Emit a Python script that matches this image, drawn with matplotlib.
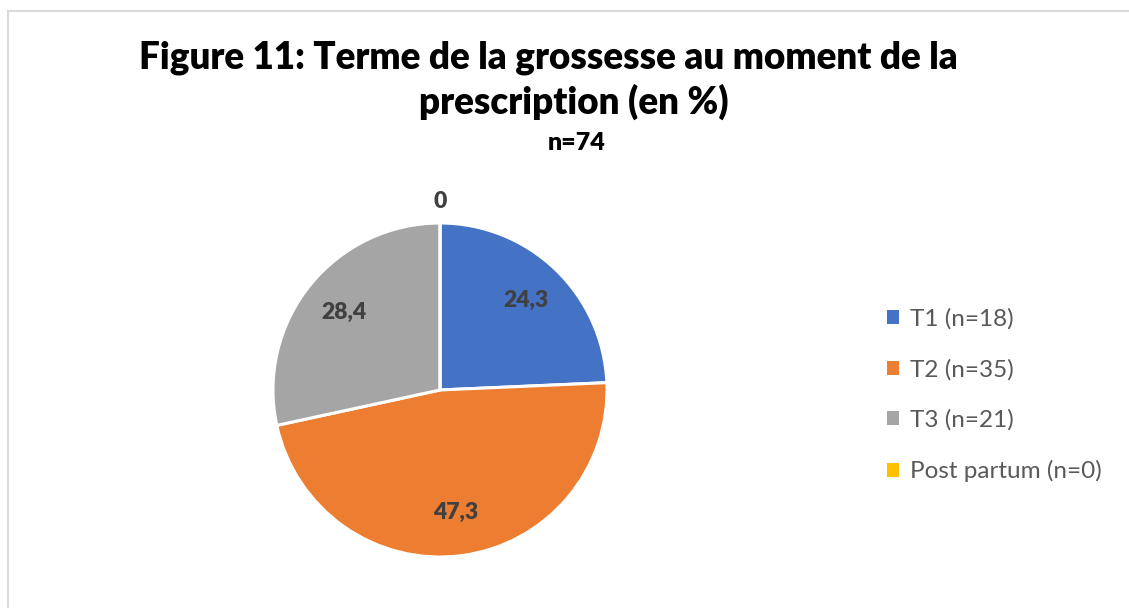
import matplotlib

matplotlib.use("Agg")
import numpy as np
import matplotlib.pyplot as plt
from matplotlib.patches import Patch, Rectangle

plt.rcParams["font.family"] = ["Lato", "DejaVu Sans"]

# data
categories = ["T1 (n=18)", "T2 (n=35)", "T3 (n=21)", "Post partum (n=0)"]
percent = [24.3, 47.3, 28.4, 0.0]
value_labels = ["24,3", "47,3", "28,4", "0"]
colors = ["#4472C4", "#ED7D31", "#A5A5A5", "#FFC000"]

W, H = 1129, 608
fig = plt.figure(figsize=(W / 100, H / 100), dpi=100)

# chart area frame (cut by the page on the right and bottom)
fig.patches.append(Rectangle((8 / W, -0.1), 1.2, 1.1 - 11 / H,
                             transform=fig.transFigure, fill=False,
                             edgecolor="#D9D9D9", lw=1.5))

# pie: centre (440, 390) px, radius 167 px
r = 167
ax = fig.add_axes([(440 - r) / W, (H - 390 - r) / H, 2 * r / W, 2 * r / H])
wedges, _ = ax.pie(percent, colors=colors, startangle=90, counterclock=False,
                   wedgeprops=dict(edgecolor="white", linewidth=2.2))
ax.set_xlim(-1, 1)
ax.set_ylim(-1, 1)
ax.set_aspect("equal")
ax.axis("off")

for w, lab, p in zip(wedges, value_labels, percent):
    mid = np.deg2rad((w.theta1 + w.theta2) / 2)
    dist = 0.74 if p > 0 else 1.13
    ax.text(dist * np.cos(mid), dist * np.sin(mid), lab, ha="center", va="center",
            fontsize=16.5, fontweight="heavy", color="#404040")

# title, wrapped as in the original (each line placed on its own)
title_kw = dict(ha="center", va="center", fontsize=26.5, fontweight="heavy", color="black")
fig.text(548 / W, 1 - 58 / H, "Figure 11: Terme de la grossesse au moment de la", **title_kw)
fig.text(574 / W, 1 - 102 / H, "prescription (en %)", **title_kw)
fig.text(577 / W, 1 - 143 / H, "n=74", ha="center", va="center",
         fontsize=18, fontweight="heavy", color="black")

handles = [Patch(facecolor=c, edgecolor="none") for c in colors]
leg = fig.legend(handles, categories, loc="upper left",
                 bbox_to_anchor=(875 / W, 1 - 296 / H), frameon=False,
                 fontsize=17.5, handlelength=0.5, handleheight=0.5,
                 handletextpad=0.45, labelspacing=1.2, borderpad=0)
for t in leg.get_texts():
    t.set_color("#595959")

fig.savefig("out.png", dpi=100, facecolor="white")
